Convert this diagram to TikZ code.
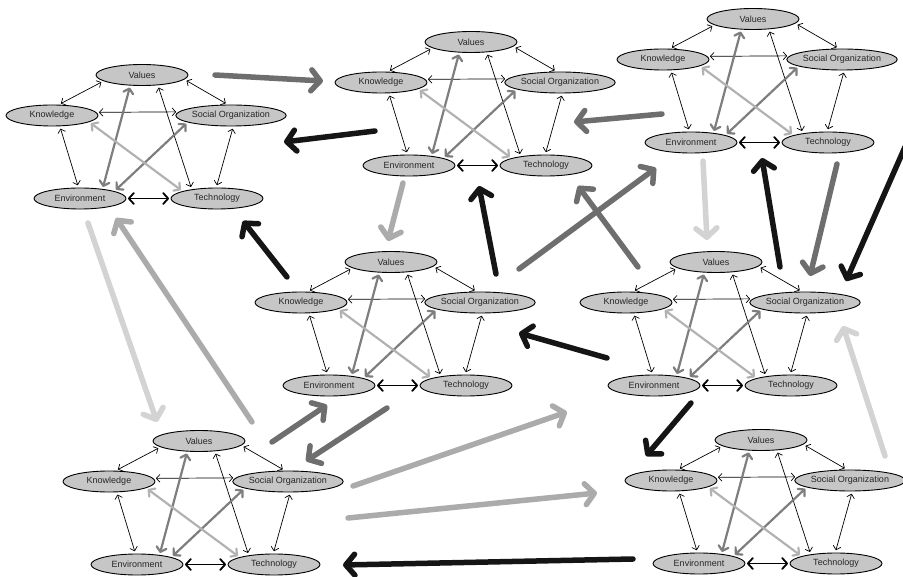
\documentclass[tikz,border=0pt]{standalone}
\usepackage{fontspec}
\setmainfont{Liberation Sans}
\usetikzlibrary{arrows.meta,shapes.geometric}

\definecolor{traitfill}{HTML}{C6C6C6}
\definecolor{traittext}{HTML}{262626}
\definecolor{flowblack}{HTML}{151515}
\definecolor{flowdark}{HTML}{6E6E6E}
\definecolor{flowmid}{HTML}{ABABAB}
\definecolor{flowlight}{HTML}{D3D3D3}
\definecolor{crossdark}{HTML}{7E7E7E}
\definecolor{crosslight}{HTML}{B2B2B2}

\tikzset{
  trait/.style={ellipse, draw=black, line width=0.9pt, fill=traitfill,
    minimum width=92pt, minimum height=21pt, inner sep=0pt,
    text=traittext, font=\fontsize{9}{10}\selectfont},
  link/.style={line width=0.7pt,
    {Straight Barb[round,length=3.5pt,width=7.5pt]}-{Straight Barb[round,length=3.5pt,width=7.5pt]},
    shorten <=2.5pt, shorten >=2.5pt},
  crosslink/.style={line width=2.2pt, line cap=round,
    {Straight Barb[round,length=4.5pt,width=10pt]}-{Straight Barb[round,length=4.5pt,width=10pt]},
    shorten <=2pt, shorten >=2pt},
  pairlink/.style={line width=1.8pt,
    {Straight Barb[round,length=5pt,width=11pt]}-{Straight Barb[round,length=5pt,width=11pt]},
    shorten <=1.5pt, shorten >=1.5pt},
  flow/.style={line width=5.5pt, line cap=round,
    -{Straight Barb[round,length=9pt,width=21pt]}},
}

% one culture: five traits round Values at (#2,#3)
\newcommand{\culture}[3]{%
  \begin{scope}[shift={(#2,#3)}]
    \node[trait] (#1-val)  at (0,0)       {Values};
    \node[trait] (#1-know) at (-90,40.5)  {Knowledge};
    \node[trait] (#1-soc)  at (89,40.5)   {Social Organization};
    \node[trait] (#1-env)  at (-62,123.5) {Environment};
    \node[trait] (#1-tech) at (75,123.5)  {Technology};
  \end{scope}
  \draw[link] (#1-val.189) -- (#1-know.58);
  \draw[link] (#1-val.354) -- (#1-soc.106);
  \draw[link] (#1-know.4) -- (#1-soc.176);
  \draw[link] (#1-know.306) -- (#1-env.98);
  \draw[link] (#1-soc.282) -- (#1-tech.94);
  \draw[link] (#1-val.327) -- (#1-tech.160);
  \draw[crosslink, crossdark] (#1-val.222) -- (#1-env.23);
  \draw[crosslink, crossdark] (#1-soc.189) -- (#1-env.12);
  \draw[crosslink, crosslight] (#1-know.350) -- (#1-tech.168);
  \draw[pairlink] (#1-env.east) -- (#1-tech.west);
}

\begin{document}
\begin{tikzpicture}[x=1pt, y=-1pt]
  \useasboundingbox (0,0) rectangle (903,577);

  \culture{A}{142}{75}
  \culture{B}{471}{42}
  \culture{C}{753}{19}
  \culture{D}{391}{262}
  \culture{E}{716}{262}
  \culture{F}{199}{441}
  \culture{G}{761}{440}

  % ends of the flows between cultures
  \coordinate (AB-tail) at (215,75);   \coordinate (AB-head) at (323,81);
  \coordinate (BA-tail) at (375,131);  \coordinate (BA-head) at (284,142);
  \coordinate (CB-tail) at (662,114);  \coordinate (CB-head) at (574,122);
  \coordinate (BD-tail) at (403,183);  \coordinate (BD-head) at (388,241);
  \coordinate (DA-tail) at (287,277);  \coordinate (DA-head) at (243,221);
  \coordinate (DB-tail) at (496,274);  \coordinate (DB-head) at (479,186);
  \coordinate (DC-tail) at (519,269);  \coordinate (DC-head) at (656,168);
  \coordinate (EB-tail) at (638,267);  \coordinate (EB-head) at (578,186);
  \coordinate (CE-tail) at (703,161);  \coordinate (CE-head) at (707,240);
  \coordinate (EC-tail) at (780,267);  \coordinate (EC-head) at (762,158);
  \coordinate (CS-tail) at (837,164);  \coordinate (CS-head) at (810,276);
  \coordinate (OE-tail) at (905,147);  \coordinate (OE-head) at (846,281);
  \coordinate (ED-tail) at (607,358);  \coordinate (ED-head) at (519,333);
  \coordinate (EG-tail) at (691,403);  \coordinate (EG-head) at (646,456);
  \coordinate (GE-tail) at (885,456);  \coordinate (GE-head) at (843,326);
  \coordinate (AF-tail) at (88,223);   \coordinate (AF-head) at (157,422);
  \coordinate (FA-tail) at (252,422);  \coordinate (FA-head) at (116,218);
  \coordinate (FD-tail) at (272,442);  \coordinate (FD-head) at (327,405);
  \coordinate (DF-tail) at (387,408);  \coordinate (DF-head) at (306,461);
  \coordinate (FE-tail) at (353,486);  \coordinate (FE-head) at (567,412);
  \coordinate (FG-tail) at (348,518);  \coordinate (FG-head) at (597,493);
  \coordinate (GF-tail) at (633,559);  \coordinate (GF-head) at (343,565);

  \begin{scope}[flow]
    \draw[flowdark]  (AB-tail) -- (AB-head);
    \draw[flowblack] (BA-tail) -- (BA-head);
    \draw[flowdark]  (CB-tail) -- (CB-head);
    \draw[flowmid]   (BD-tail) -- (BD-head);
    \draw[flowblack] (DA-tail) -- (DA-head);
    \draw[flowblack] (DB-tail) -- (DB-head);
    \draw[flowdark]  (EB-tail) -- (EB-head);
    \draw[flowdark]  (DC-tail) -- (DC-head);
    \draw[flowlight] (CE-tail) -- (CE-head);
    \draw[flowblack] (EC-tail) -- (EC-head);
    \draw[flowdark]  (CS-tail) -- (CS-head);
    \draw[flowblack] (OE-tail) -- (OE-head);
    \draw[flowblack] (ED-tail) -- (ED-head);
    \draw[flowblack] (EG-tail) -- (EG-head);
    \draw[flowlight] (GE-tail) -- (GE-head);
    \draw[flowlight] (AF-tail) -- (AF-head);
    \draw[flowmid]   (FA-tail) -- (FA-head);
    \draw[flowdark]  (FD-tail) -- (FD-head);
    \draw[flowdark]  (DF-tail) -- (DF-head);
    \draw[flowmid]   (FE-tail) -- (FE-head);
    \draw[flowmid]   (FG-tail) -- (FG-head);
    \draw[flowblack] (GF-tail) -- (GF-head);
  \end{scope}
\end{tikzpicture}
\end{document}
